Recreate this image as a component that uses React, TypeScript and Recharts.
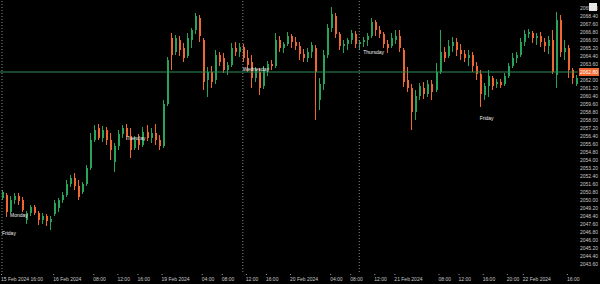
import {
  Bar,
  ComposedChart,
  ReferenceDot,
  ReferenceLine,
  XAxis,
  YAxis,
} from "recharts";

// OHLC per candle
const opens = [
  2050.2, 2050.5, 2048.8, 2050.0, 2050.4, 2050.0, 2048.0, 2048.7, 2049.3, 2048.7,
  2048.0, 2048.4, 2047.8, 2048.6, 2049.2, 2050.0, 2050.5, 2051.6, 2052.2, 2051.4,
  2050.8, 2051.6, 2053.2, 2056.0, 2057.2, 2056.2, 2057.0, 2056.0, 2053.8, 2055.4,
  2056.6, 2057.2, 2056.4, 2055.2, 2056.0, 2055.5, 2056.8, 2056.2, 2056.7, 2056.0,
  2055.4, 2059.6, 2066.2, 2064.8, 2066.0, 2065.2, 2064.4, 2066.0, 2067.0, 2068.2,
  2066.0, 2062.0, 2062.8, 2062.0, 2064.5, 2064.2, 2063.0, 2063.5, 2065.2, 2064.8,
  2065.3, 2064.2, 2063.8, 2062.2, 2062.8, 2061.4, 2063.0, 2063.6, 2063.4, 2066.0,
  2065.2, 2065.6, 2066.4, 2065.8, 2065.4, 2064.6, 2064.2, 2064.8, 2065.2, 2060.0,
  2061.6, 2064.5, 2067.2, 2068.4, 2066.6, 2065.4, 2065.6, 2066.0, 2066.6, 2065.6,
  2065.8, 2066.0, 2066.4, 2067.8, 2067.0, 2066.6, 2065.6, 2065.4, 2066.0, 2066.4,
  2065.0, 2062.0, 2061.2, 2058.8, 2060.4, 2061.2, 2060.6, 2061.6, 2061.0, 2062.8,
  2064.8, 2064.4, 2065.4, 2065.8, 2065.0, 2064.6, 2064.2, 2064.5, 2063.4, 2062.6,
  2060.5, 2061.4, 2062.2, 2061.6, 2061.8, 2061.6, 2062.4, 2063.4, 2064.2, 2064.5,
  2065.8, 2066.6, 2066.7, 2066.2, 2066.4, 2065.8, 2065.4, 2066.0, 2062.5, 2068.0,
  2064.8, 2065.2, 2063.0, 2061.6,
];
const highs = [
  2051.0, 2050.7, 2050.4, 2050.7, 2050.7, 2050.3, 2048.9, 2049.5, 2049.5, 2048.9,
  2048.7, 2048.6, 2048.4, 2050.0, 2050.2, 2050.8, 2052.0, 2052.5, 2052.7, 2052.0,
  2051.8, 2053.5, 2056.7, 2057.5, 2057.6, 2057.4, 2057.3, 2056.7, 2055.7, 2057.0,
  2057.5, 2057.6, 2057.2, 2056.4, 2056.6, 2057.3, 2057.5, 2057.2, 2057.6, 2056.5,
  2060.0, 2064.3, 2066.7, 2066.5, 2066.4, 2065.7, 2066.7, 2067.2, 2068.7, 2068.5,
  2066.2, 2063.3, 2063.4, 2065.0, 2064.8, 2064.7, 2063.8, 2065.7, 2065.8, 2065.7,
  2065.6, 2065.0, 2064.5, 2063.3, 2063.2, 2063.4, 2063.9, 2064.0, 2066.7, 2066.4,
  2065.8, 2066.8, 2066.6, 2066.3, 2065.8, 2065.1, 2065.2, 2065.8, 2065.5, 2062.2,
  2065.0, 2067.6, 2069.3, 2068.7, 2066.8, 2066.0, 2066.2, 2067.0, 2066.9, 2066.0,
  2066.3, 2066.7, 2068.2, 2068.0, 2067.4, 2066.8, 2066.0, 2066.7, 2067.0, 2067.0,
  2065.2, 2063.3, 2061.6, 2061.0, 2061.7, 2061.8, 2062.0, 2062.0, 2063.7, 2067.0,
  2065.3, 2066.0, 2066.3, 2066.2, 2065.6, 2065.0, 2065.0, 2064.8, 2063.8, 2063.0,
  2061.7, 2063.0, 2062.4, 2062.1, 2062.1, 2062.7, 2063.7, 2064.7, 2064.8, 2066.2,
  2067.0, 2067.1, 2066.9, 2066.7, 2066.8, 2066.2, 2066.4, 2067.0, 2068.8, 2068.5,
  2066.0, 2065.5, 2063.2, 2062.5,
];
const lows = [
  2050.0, 2048.3, 2048.7, 2049.6, 2049.5, 2048.8, 2047.6, 2048.4, 2048.5, 2047.5,
  2047.6, 2047.4, 2047.0, 2048.4, 2048.8, 2049.7, 2050.3, 2051.3, 2051.0, 2050.0,
  2050.6, 2051.4, 2053.0, 2055.8, 2056.0, 2055.8, 2055.5, 2054.0, 2052.8, 2055.0,
  2056.2, 2056.0, 2054.2, 2055.0, 2055.0, 2055.3, 2055.9, 2055.7, 2055.5, 2055.0,
  2055.2, 2059.4, 2063.0, 2064.5, 2064.4, 2063.8, 2064.2, 2065.2, 2066.6, 2065.8,
  2061.0, 2060.3, 2061.2, 2061.6, 2063.4, 2062.7, 2062.5, 2063.3, 2064.4, 2064.3,
  2063.8, 2062.8, 2061.2, 2061.8, 2060.5, 2061.1, 2062.4, 2063.0, 2063.2, 2064.8,
  2064.7, 2065.4, 2065.2, 2065.0, 2064.0, 2063.8, 2063.8, 2064.2, 2058.0, 2059.0,
  2061.0, 2064.2, 2066.8, 2066.2, 2065.0, 2064.7, 2065.0, 2065.6, 2065.2, 2065.0,
  2065.3, 2065.4, 2066.2, 2066.4, 2066.2, 2065.2, 2064.7, 2065.2, 2065.6, 2064.8,
  2061.3, 2060.8, 2057.0, 2058.0, 2060.0, 2060.1, 2060.3, 2060.0, 2060.8, 2062.6,
  2063.8, 2064.2, 2064.8, 2064.4, 2064.0, 2063.8, 2063.4, 2062.8, 2062.0, 2059.3,
  2060.0, 2060.3, 2061.0, 2061.2, 2061.2, 2061.4, 2062.2, 2063.2, 2063.7, 2064.3,
  2065.4, 2066.2, 2065.7, 2065.5, 2065.3, 2064.8, 2064.6, 2062.6, 2061.2, 2064.3,
  2064.0, 2062.2, 2061.6, 2061.4,
];
const closes = [
  2050.8, 2048.8, 2050.0, 2050.4, 2049.9, 2049.0, 2048.7, 2049.3, 2048.7, 2048.0,
  2048.4, 2047.9, 2048.1, 2049.7, 2050.0, 2050.5, 2051.6, 2052.2, 2051.4, 2050.3,
  2051.6, 2053.2, 2056.0, 2057.0, 2056.2, 2057.0, 2056.0, 2055.0, 2055.4, 2056.6,
  2057.2, 2056.4, 2055.0, 2056.0, 2055.5, 2056.8, 2056.2, 2056.7, 2056.0, 2055.4,
  2059.6, 2064.0, 2064.5, 2066.2, 2065.0, 2064.2, 2066.2, 2067.0, 2068.4, 2066.4,
  2061.8, 2062.8, 2061.8, 2064.5, 2063.8, 2063.0, 2063.5, 2065.2, 2064.8, 2065.3,
  2064.2, 2063.5, 2062.2, 2063.0, 2061.2, 2063.0, 2063.6, 2063.4, 2066.0, 2065.2,
  2065.6, 2066.4, 2065.8, 2065.4, 2064.6, 2064.2, 2064.8, 2065.5, 2062.8, 2061.6,
  2064.5, 2067.2, 2068.6, 2066.6, 2065.4, 2065.6, 2066.0, 2066.7, 2065.6, 2065.8,
  2066.0, 2066.4, 2067.8, 2067.0, 2066.6, 2065.6, 2065.2, 2066.2, 2066.4, 2065.2,
  2061.8, 2061.2, 2058.8, 2060.4, 2061.4, 2060.6, 2061.6, 2060.8, 2062.8, 2064.8,
  2064.2, 2065.4, 2065.8, 2065.0, 2064.6, 2064.2, 2064.5, 2063.4, 2062.6, 2060.6,
  2061.4, 2062.4, 2061.4, 2061.8, 2061.5, 2062.4, 2063.4, 2064.2, 2064.5, 2065.8,
  2066.6, 2066.8, 2066.2, 2066.4, 2065.8, 2065.4, 2066.0, 2062.8, 2068.0, 2064.8,
  2065.2, 2063.0, 2062.2, 2062.2,
];

const priceTicks = [
  2069.2, 2068.4, 2067.6, 2066.8, 2066.0, 2065.2, 2064.4, 2063.6, 2062.0, 2061.2,
  2060.4, 2059.6, 2058.8, 2058.0, 2057.2, 2056.4, 2055.6, 2054.8, 2054.0, 2053.2,
  2052.4, 2051.6, 2050.8, 2050.0, 2049.2, 2048.4, 2047.6, 2046.8, 2046.0, 2045.2,
  2044.4, 2043.6,
];
const lastPrice = 2062.8;
const separators = [0, 60, 89];

const timeTickIndex = [0, 13, 23, 29, 34, 40, 50, 55, 61, 66, 72, 82, 87, 93, 98, 109, 114, 120, 126, 130, 141];
const timeTickLabels = [
  "15 Feb 2024 16:00", "16 Feb 2024", "08:00", "12:00", "16:00", "19 Feb 2024",
  "04:00", "08:00", "12:00", "16:00", "20 Feb 2024", "04:00", "08:00", "12:00",
  "21 Feb 2024", "08:00", "12:00", "16:00", "20:00", "22 Feb 2024", "16:00",
];

const dayNames = ["Friday", "Monday", "Tuesday", "Wednesday", "Thursday", "Friday"];
const dayNameIndex = [0, 2, 31, 60, 90, 119];
const dayNamePrice = [2046.7, 2048.5, 2056.2, 2063.1, 2064.8, 2058.2];

const UP = "#27a35a";
const DOWN = "#f0682f";
const FONT = "Liberation Sans, Arial, sans-serif";

const data = opens.map((o, i) => ({
  i,
  o,
  h: highs[i],
  l: lows[i],
  c: closes[i],
  range: [lows[i], highs[i]],
}));

function Candle(props: any) {
  const { x, y, width, height, payload } = props;
  const { o, h, l, c } = payload;
  const color = c >= o ? UP : DOWN;
  const top = Math.min(y, y + height);
  const full = Math.abs(height);
  const per = h === l ? 0 : full / (h - l);
  const bodyTop = top + (h - Math.max(o, c)) * per;
  const bodyH = Math.max(1, Math.abs(o - c) * per);
  const cx = Math.floor(x + width / 2);
  return (
    <g>
      <rect x={cx} y={top} width={1} height={Math.max(1, full)} fill={color} />
      <rect x={cx} y={bodyTop} width={2} height={bodyH} fill={color} />
    </g>
  );
}

function TimeTick(props: any) {
  const { x, y, payload } = props;
  const k = timeTickIndex.indexOf(payload.value);
  if (k < 0) return <g />;
  return (
    <g>
      <rect x={x - 1} y={y + 2} width={1} height={1} fill="#9a9a9a" />
      <text x={x - 1} y={y + 9} fontSize={5} fill="#c8c8c8" fontFamily={FONT} textAnchor="start">
        {timeTickLabels[k]}
      </text>
    </g>
  );
}

function PriceTag(props: any) {
  const { viewBox } = props;
  const x = viewBox.x + viewBox.width;
  const y = viewBox.y;
  return (
    <g>
      <rect x={x + 1} y={y - 4} width={20} height={8} fill={DOWN} />
      <text x={x + 2} y={y} dy="0.35em" fontSize={5} fill="#ffffff" fontFamily={FONT}>
        {lastPrice.toFixed(2)}
      </text>
    </g>
  );
}

export default function App() {
  return (
    <div style={{ position: "fixed", left: 0, top: 0, width: 600, height: 284, background: "#000" }}>
      <ComposedChart
        width={600}
        height={284}
        data={data}
        margin={{ top: 0, right: 0, bottom: 0, left: 0 }}
        barCategoryGap={0}
      >
        <XAxis
          dataKey="i"
          type="category"
          interval={0}
          tick={TimeTick}
          tickLine={false}
          axisLine={false}
          tickSize={0}
          tickMargin={0}
          height={12}
        />
        <YAxis
          orientation="right"
          width={22}
          domain={[2042.8, 2070.0]}
          ticks={priceTicks}
          interval={0}
          tickLine={false}
          axisLine={false}
          tickSize={0}
          tickMargin={2}
          tick={{ fontSize: 5, fill: "#c8c8c8", fontFamily: FONT }}
          tickFormatter={(v: number) => v.toFixed(2)}
        />
        {separators.map((s) => (
          <ReferenceLine key={s} x={s} stroke="#8a8a8a" strokeDasharray="1 2" />
        ))}
        <ReferenceLine y={lastPrice} stroke="#2f8f55" label={<PriceTag />} />
        <Bar dataKey="range" shape={Candle} barSize={3} isAnimationActive={false} />
        {dayNames.map((name, k) => (
          <ReferenceDot
            key={k}
            x={dayNameIndex[k]}
            y={dayNamePrice[k]}
            r={0}
            shape={(p: any) => (
              <text x={p.cx} y={p.cy} dy="0.35em" fontSize={5} fill="#eeeeee" fontFamily={FONT}>
                {name}
              </text>
            )}
          />
        ))}
      </ComposedChart>
      <div
        style={{
          position: "absolute",
          left: 589,
          top: 3,
          width: 8,
          height: 8,
          background: "#e8e8e8",
        }}
      />
    </div>
  );
}
